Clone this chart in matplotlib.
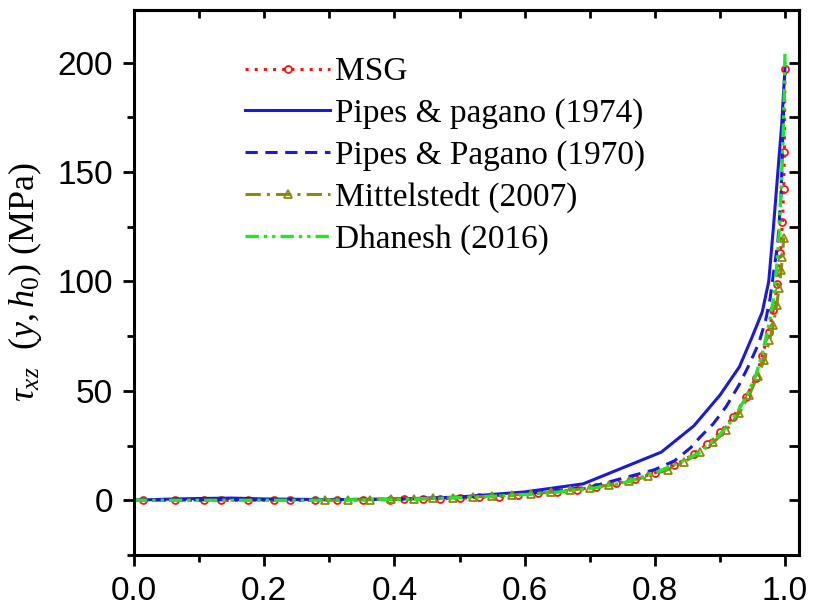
import matplotlib
matplotlib.use('Agg')
import matplotlib.pyplot as plt
from matplotlib.ticker import MultipleLocator, NullFormatter


# MSG
msg_x = [0.014, 0.063, 0.108, 0.134, 0.175, 0.215, 0.24, 0.278, 0.312, 0.352, 0.393, 0.415, 0.444,
         0.47, 0.5, 0.53, 0.56, 0.59, 0.62, 0.65, 0.68, 0.71, 0.74, 0.77, 0.8, 0.83, 0.86, 0.88,
         0.9, 0.92, 0.94, 0.955, 0.965, 0.975, 0.982, 0.988, 0.993, 0.996, 0.998, 0.999, 1.0]
msg_y = [0, 0, 0, 0, 0, 0, 0, 0, 0.1, 0.2, 0.3, 0.4, 0.5,
         0.7, 1.0, 1.3, 1.6, 2.5, 3.1, 3.9, 4.9, 6.1, 7.7, 9.7, 12.5, 16, 21, 25.5,
         31, 38, 47, 56, 66, 77, 87, 99, 113, 127, 142, 159, 197]

# Pipes & pagano (1974)
pp74_x = [0, 0.05, 0.1, 0.15, 0.2, 0.3, 0.4, 0.5, 0.6, 0.69, 0.81, 0.86, 0.9, 0.93, 0.95,
          0.965, 0.975, 0.982, 0.989, 0.995, 1.0]
pp74_y = [0, 0.5, 0.8, 1.0, 0.6, 0.3, 0.5, 1.5, 3.8, 7.5, 22, 34, 48, 61, 75,
          86, 100, 124, 150, 172, 198]

# Pipes & Pagano (1970)
pp70_x = [0, 0.1, 0.2, 0.3, 0.4, 0.5, 0.6, 0.7, 0.8, 0.83, 0.855, 0.87, 0.89, 0.91, 0.93,
          0.945, 0.96, 0.97, 0.977, 0.983, 0.989, 0.994, 1.0]
pp70_y = [0, 0.2, 0.3, 0.3, 0.5, 1.3, 3.0, 6.0, 14, 18, 24, 29, 35, 43, 53,
          62, 72, 82, 92, 105, 118, 140, 200]

# Mittelstedt (2007)
mit_x = [0.293, 0.329, 0.362, 0.395, 0.43, 0.46, 0.49, 0.52, 0.55, 0.58, 0.61, 0.64, 0.67,
         0.7, 0.73, 0.76, 0.79, 0.82, 0.845, 0.87, 0.89, 0.91, 0.93, 0.945, 0.958, 0.968,
         0.976, 0.982, 0.987, 0.991, 0.994, 0.996, 0.998]
mit_y = [0, 0.1, 0.3, 0.4, 0.6, 0.9, 1.2, 1.5, 1.9, 2.4, 3.0, 3.7, 4.6,
         5.7, 7.0, 8.7, 10.9, 14, 17.5, 22, 26.5, 32, 40, 48, 57, 64,
         73, 80, 89, 97, 105, 111, 120]

# Dhanesh (2016)
dh_x = [0, 0.05, 0.1, 0.15, 0.2, 0.25, 0.3, 0.35, 0.4, 0.45, 0.5, 0.55, 0.6, 0.65, 0.7,
        0.75, 0.8, 0.84, 0.87, 0.9, 0.92, 0.94, 0.955, 0.965, 0.975, 0.982, 0.987, 0.991,
        0.995, 0.998, 1.0]
dh_y = [0, 0, 0, 0, 0, 0, 0.1, 0.2, 0.4, 0.7, 1.2, 1.8, 2.6, 3.7, 5.3,
        7.8, 12.5, 17.5, 22, 30, 37, 47, 57, 67, 80, 91, 106, 122,
        150, 175, 205]

plt.rcParams['mathtext.fontset'] = 'custom'
plt.rcParams['mathtext.rm'] = 'Liberation Serif'
plt.rcParams['mathtext.it'] = 'Liberation Serif:italic'

fig = plt.figure(figsize=(8.13, 6.07), dpi=100)
ax = fig.add_axes([0.1648, 0.0857, 0.818, 0.8978])

ax.plot(msg_x, msg_y, color='#ff1010', linestyle=(0, (1, 2)), linewidth=2.2,
        marker='o', markersize=5, markerfacecolor='none', markeredgewidth=1.3, label='MSG')
ax.plot(pp74_x, pp74_y, color='#1a1ad8', linestyle='-', linewidth=2.2, label='Pipes & pagano (1974)')
ax.plot(pp70_x, pp70_y, color='#1a1ad8', linestyle=(0, (4, 2.5)), linewidth=2.2,
        label='Pipes & Pagano (1970)')
ax.plot(mit_x, mit_y, color='#8a8a10', linestyle=(0, (5, 2, 1, 2)), linewidth=2.2,
        marker='^', markersize=6, markerfacecolor='none', markeredgewidth=1.3,
        label='Mittelstedt (2007)')
ax.plot(dh_x, dh_y, color='#22e622', linestyle=(0, (4, 1.5, 1, 1.5, 1, 1.5)), linewidth=2.4,
        label='Dhanesh (2016)')

ax.set_xlim(0, 1.0215)
ax.set_ylim(-25, 224)
ax.xaxis.set_major_locator(MultipleLocator(0.2))
ax.xaxis.set_minor_locator(MultipleLocator(0.1))
ax.yaxis.set_major_locator(MultipleLocator(50))
ax.yaxis.set_minor_locator(MultipleLocator(25))
ax.tick_params(which='major', direction='out', length=8, width=2, labelsize=24, pad=7)
ax.tick_params(which='minor', direction='out', length=5, width=2)
for lab in ax.get_xticklabels() + ax.get_yticklabels():
    lab.set_fontfamily('Liberation Sans')
for s in ax.spines.values():
    s.set_linewidth(2.2)

top = ax.secondary_xaxis('top')
top.xaxis.set_major_locator(MultipleLocator(0.1))
top.xaxis.set_major_formatter(NullFormatter())
top.tick_params(direction='in', length=6, width=2)
top.spines['top'].set_linewidth(2.2)
right = ax.secondary_yaxis('right')
right.yaxis.set_major_locator(MultipleLocator(25))
right.yaxis.set_major_formatter(NullFormatter())
right.tick_params(direction='in', length=7, width=2)
right.spines['right'].set_linewidth(2.2)

ax.set_ylabel(r'$\tau_{xz}\ \ (y,h_0)$ (MPa)', fontfamily='Liberation Serif', fontsize=26,
              labelpad=10)

ax.legend(loc='upper left', bbox_to_anchor=(0.167, 0.914), frameon=False, numpoints=1,
          prop={'family': 'Liberation Serif', 'size': 24}, handlelength=2.55,
          handletextpad=0.15, labelspacing=0.33, borderpad=0, borderaxespad=0)

fig.savefig('out.png', dpi=100)
